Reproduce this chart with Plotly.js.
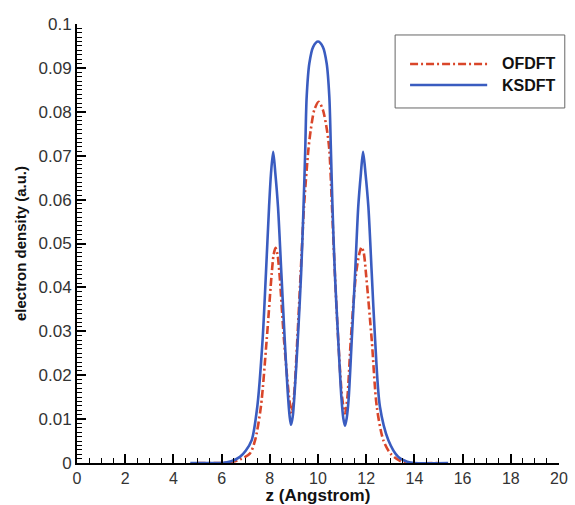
<!DOCTYPE html>
<html>
<head>
<meta charset="utf-8">
<script src="https://cdn.plot.ly/plotly-3.0.1.min.js"></script>
<style>html,body{margin:0;padding:0;background:#fff;}#chart{width:575px;height:505px;}</style>
</head>
<body>
<div id="chart"></div>
<script>
// KSDFT (solid blue)
const ksZ = [4.7, 5.5, 6.0, 6.4, 6.76, 7.0, 7.25, 7.48, 7.7, 7.84, 7.97, 8.05, 8.14, 8.23, 8.34, 8.48, 8.62, 8.74, 8.82, 8.88, 8.95, 9.03, 9.16, 9.3, 9.4, 9.47, 9.53, 9.64, 9.8, 10.0, 10.2, 10.36, 10.47, 10.53, 10.6, 10.7, 10.84, 10.97, 11.05, 11.12, 11.19, 11.27, 11.4, 11.54, 11.67, 11.78, 11.87, 11.97, 12.09, 12.23, 12.37, 12.57, 12.92, 13.33, 13.7, 14.0, 15.4];
const ksV = [0, 0, 0, 0.0004, 0.0014, 0.0028, 0.0052, 0.0128, 0.028, 0.0432, 0.0584, 0.066, 0.0709, 0.066, 0.0584, 0.0432, 0.028, 0.0165, 0.0108, 0.0087, 0.0105, 0.016, 0.028, 0.0432, 0.0584, 0.0713, 0.0834, 0.091, 0.0948, 0.096, 0.0948, 0.091, 0.0834, 0.0725, 0.0584, 0.0432, 0.028, 0.015, 0.0102, 0.0085, 0.0102, 0.0145, 0.028, 0.0432, 0.0584, 0.066, 0.0709, 0.066, 0.0584, 0.0432, 0.028, 0.0128, 0.0052, 0.0014, 0.0003, 0, 0];

// OFDFT (dash-dot red)
const ofZ = [5.0, 6.0, 6.4, 6.8, 7.18, 7.39, 7.63, 7.87, 8.08, 8.16, 8.24, 8.32, 8.4, 8.59, 8.8, 8.9, 9.0, 9.14, 9.28, 9.42, 9.6, 9.7, 9.85, 10.03, 10.2, 10.37, 10.47, 10.58, 10.7, 10.84, 11.0, 11.12, 11.22, 11.36, 11.58, 11.72, 11.81, 11.9, 11.99, 12.23, 12.44, 12.71, 13.0, 13.4, 13.8, 15.0];
const ofV = [0, 0, 0.0002, 0.0009, 0.0022, 0.0052, 0.0128, 0.028, 0.0432, 0.0475, 0.049, 0.0475, 0.0432, 0.028, 0.015, 0.0113, 0.015, 0.028, 0.0432, 0.0584, 0.0713, 0.0759, 0.0805, 0.0823, 0.0805, 0.0759, 0.0713, 0.0584, 0.0432, 0.028, 0.015, 0.0113, 0.015, 0.028, 0.0432, 0.0478, 0.0492, 0.0478, 0.0432, 0.028, 0.0128, 0.0052, 0.0022, 0.0005, 0, 0];

const seriesNames = ['OFDFT', 'KSDFT'];
const xTicks = [0, 2, 4, 6, 8, 10, 12, 14, 16, 18, 20];

const FONT = 'Liberation Sans, Arial, sans-serif';
const styles = [
  {color: '#d9462a', width: 2.6, dash: '8px,3px,2px,3px'},
  {color: '#3a5cc0', width: 2.6, dash: 'solid'}
];

const traces = [
  {x: ofZ, y: ofV, name: seriesNames[0], type: 'scatter', mode: 'lines', showlegend: false,
   line: Object.assign({shape: 'spline', smoothing: 0.8}, styles[0])},
  {x: ksZ, y: ksV, name: seriesNames[1], type: 'scatter', mode: 'lines', showlegend: false,
   line: Object.assign({shape: 'spline', smoothing: 0.8}, styles[1])}
];

// legend box (drawn as shapes/annotations to match the reference's long samples)
const legX0 = 0.66, legX1 = 1.012, legY0 = 0.8087, legY1 = 0.975;
const rowY = [0.9089, 0.861];
const shapes = [{type: 'rect', xref: 'paper', yref: 'paper', x0: legX0, x1: legX1, y0: legY0, y1: legY1,
  line: {color: '#666', width: 1}, fillcolor: '#fff', layer: 'above'}];
const annotations = [];
seriesNames.forEach((n, i) => {
  shapes.push({type: 'line', xref: 'paper', yref: 'paper', x0: 0.691, x1: 0.851, y0: rowY[i], y1: rowY[i],
    line: styles[i], layer: 'above'});
  annotations.push({xref: 'paper', yref: 'paper', x: 0.8776, y: rowY[i], xanchor: 'left', yanchor: 'middle',
    text: '<b>' + n + '</b>', showarrow: false, font: {family: FONT, size: 16, color: '#111'}});
});

const axisCommon = {
  showgrid: false, zeroline: false, showline: true, linecolor: '#000', linewidth: 2,
  ticks: 'inside', ticklen: 9, tickwidth: 2, tickcolor: '#000'
};

const layout = {
  width: 575, height: 505,
  margin: {l: 77, r: 16, t: 24, b: 42},
  paper_bgcolor: '#fff', plot_bgcolor: '#fff',
  showlegend: false,
  shapes: shapes,
  annotations: annotations,
  xaxis: Object.assign({}, axisCommon, {
    range: [0, 20], tickvals: xTicks, ticktext: xTicks.map(String),
    tickfont: {family: FONT, size: 16, color: '#333'},
    minor: {dtick: 0.5, ticks: 'inside', ticklen: 5, tickwidth: 1, tickcolor: '#000'},
    title: {text: 'z (Angstrom)', standoff: 2,
      font: {family: FONT, size: 17, color: '#111', weight: 'bold'}}
  }),
  yaxis: Object.assign({}, axisCommon, {
    range: [0, 0.1], dtick: 0.01, tick0: 0,
    tickfont: {family: FONT, size: 17, color: '#333'},
    minor: {dtick: 0.001, ticks: 'inside', ticklen: 5, tickwidth: 1, tickcolor: '#000'},
    title: {text: 'electron density (a.u.)', standoff: 8,
      font: {family: FONT, size: 15, color: '#111', weight: 'bold'}}
  })
};

Plotly.newPlot('chart', traces, layout, {displayModeBar: false, staticPlot: true});
</script>
</body>
</html>
